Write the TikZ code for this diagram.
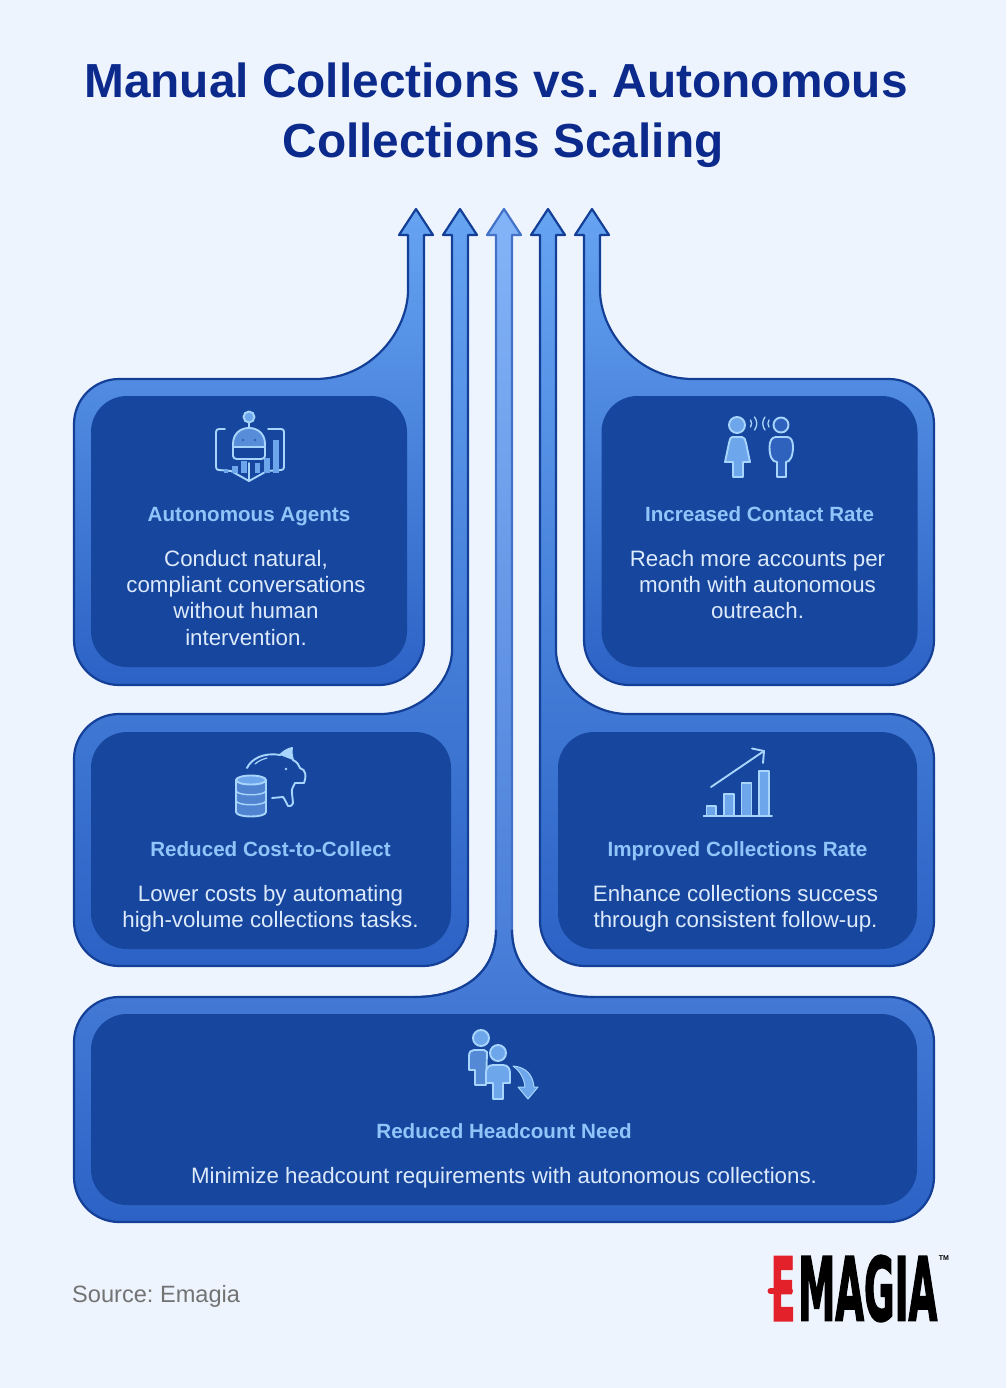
\documentclass[tikz,border=0pt]{standalone}
\usepackage{fontspec}
\setmainfont{Liberation Sans}
\newfontfamily\logofont[FakeBold=2.5]{DejaVu Sans Bold}
\usetikzlibrary{positioning}
\frenchspacing
\definecolor{pagetop}{HTML}{EEF4FE}
\definecolor{titleblue}{HTML}{0B2A8C}
\definecolor{bandtop}{HTML}{66A4F2}
\definecolor{bandbot}{HTML}{2C62C5}
\definecolor{bandedge}{HTML}{143F96}
\definecolor{midedge}{HTML}{4272C8}
\definecolor{midtop}{HTML}{84B4F8}
\definecolor{midbot}{HTML}{3E74D2}
\definecolor{lowtop}{HTML}{4A80DA}
\definecolor{innerblue}{HTML}{17469F}
\definecolor{headblue}{HTML}{8FC6FA}
\definecolor{bodyblue}{HTML}{DCEAFB}
\definecolor{iconedge}{HTML}{A8D5FC}
\definecolor{iconfill}{HTML}{6EA6EC}
\definecolor{icondark}{HTML}{2E62BD}
\definecolor{logored}{HTML}{E3212B}
\begin{document}
\begin{tikzpicture}[x=1pt,y=-1pt,
			band/.style={draw=bandedge, line width=2.2pt, line join=round, top color=bandtop, bottom color=bandbot},
			midband/.style={draw=midedge, line width=2.2pt, line join=round, top color=midtop, bottom color=midbot},
			block/.style={rectangle, rounded corners=36pt, fill=innerblue, inner sep=0pt},
			head/.style={font=\fontsize{20.6}{25}\selectfont\bfseries, text=headblue, inner sep=0pt, text height=16pt, text depth=5pt},
			body/.style={font=\fontsize{22.3}{26.4}\selectfont, text=bodyblue, align=center, inner sep=0pt},
			iconline/.style={draw=iconedge, line width=1.9pt, line join=round, line cap=round},
			iconbar/.style={iconline, fill=iconfill}]
			\useasboundingbox (0,0) rectangle (1006,1388);
			\fill[pagetop] (0,0) rectangle (1006,1388);
			\node[font=\fontsize{47.8}{60}\selectfont\bfseries, text=titleblue, align=center, inner sep=0pt] (title) at (496,115.5) {Manual Collections vs. Autonomous\\[0pt]\hspace*{14pt}Collections Scaling};
			\path[midband] (496,235) -- (487,235) -- (504,209) -- (521,235) -- (512,235) -- (512,930) .. controls (512,975) and (550,997) .. (593,997) -- (496,1100) -- (415,997) .. controls (460,997) and (496,975) .. (496,930) -- cycle;
			\path[band, top color=lowtop] (496,930) .. controls (496,975) and (460,997) .. (415,997) [rounded corners=45pt] -- (74,997) -- (74,1222) -- (934,1222) -- (934,997) [sharp corners] -- (593,997) .. controls (550,997) and (512,975) .. (512,930);
			\path[band] (408,235) -- (399,235) -- (416,209) -- (433,235) -- (424,235) [rounded corners=45pt] -- (424,685) -- (74,685) -- (74,379) [sharp corners] -- (315,379) .. controls (372,379) and (408,330) .. (408,290) -- cycle;
			\path[band] (452,235) -- (443,235) -- (460,209) -- (477,235) -- (468,235) [rounded corners=45pt] -- (468,966) -- (74,966) -- (74,714) [sharp corners] -- (380,714) .. controls (420,714) and (452,682) .. (452,650) -- cycle;
			\path[band] (600,235) -- (609,235) -- (592,209) -- (575,235) -- (584,235) [rounded corners=45pt] -- (584,685) -- (934,685) -- (934,379) [sharp corners] -- (693,379) .. controls (636,379) and (600,330) .. (600,290) -- cycle;
			\path[band] (556,235) -- (565,235) -- (548,209) -- (531,235) -- (540,235) [rounded corners=45pt] -- (540,966) -- (934,966) -- (934,714) [sharp corners] -- (628,714) .. controls (588,714) and (556,682) .. (556,650) -- cycle;
			\node[block, minimum width=316pt, minimum height=271pt] (block1) at (249,531.5) {};
			\node[block, minimum width=316pt, minimum height=271pt] (block2) at (759.5,531.5) {};
			\node[block, minimum width=360pt, minimum height=217pt] (block3) at (271,840.5) {};
			\node[block, minimum width=359pt, minimum height=217pt] (block4) at (737.5,840.5) {};
			\node[block, minimum width=826pt, minimum height=191pt] (block5) at (504,1109.5) {};
			\node[head] (head1) at (249,516) {Autonomous Agents};
			\node[body] (body1) [below=23pt of head1, xshift=-3pt] {Conduct natural,\\compliant conversations\\without human\\intervention.};
			\node[head] (head2) at (759.5,516) {Increased Contact Rate};
			\node[body] (body2) [below=23pt of head2, xshift=-2pt] {Reach more accounts per\\month with autonomous\\outreach.};
			\node[head] (head3) at (270.5,851) {Reduced Cost-to-Collect};
			\node[body] (body3) [below=23pt of head3] {Lower costs by automating\\high-volume collections tasks.};
			\node[head] (head4) at (737.5,851) {Improved Collections Rate};
			\node[body] (body4) [below=23pt of head4, xshift=-2pt] {Enhance collections success\\through consistent follow-up.};
			\node[head] (head5) at (504,1133) {Reduced Headcount Need};
			\node[body] (body5) [below=23pt of head5] {Minimize headcount requirements with autonomous collections.};
			\node[font=\fontsize{23.6}{28}\selectfont, text=black!55, anchor=west, inner sep=0pt] (source) at (72,1296) {Source: Emagia};
			\node[font=\logofont\fontsize{50}{50}\selectfont, text=logored, xscale=.72, yscale=1.75, inner sep=0pt] (logo1) at (783,1288.5) {E};
			\draw[logored, line width=6pt, line cap=round] (770.5,1291) -- (790,1291);
			\node[font=\logofont\fontsize{50}{50}\selectfont, text=black, xscale=.745, yscale=1.75, inner sep=0pt, anchor=west] (logo2) at (798,1288.5) {MAGIA};
			\node[font=\fontsize{7}{8}\selectfont\bfseries, text=black, inner sep=0pt] (logo3) at (944,1258) {TM};
			% robot
			\draw[iconline] (225,429) -- (219,429) .. controls (217,429) and (216,430) .. (216,432) -- (216,467) .. controls (216,469) and (217,470) .. (219,470) -- (231,471) -- (249,481) -- (267,471) -- (281,470) .. controls (283,470) and (284,469) .. (284,467) -- (284,432) .. controls (284,430) and (283,429) .. (281,429) -- (268,429);
			\foreach \xa/\xb/\yb in {223.5/228/469, 232/237.5/466, 241/247/461, 255/260/463, 264/270/458, 273/279/440}
				\fill[iconfill] (\xa,\yb) rectangle (\xb,473);
			\draw[iconline] (249,463) -- (249,481);
			\draw[iconline, fill=iconfill!75!innerblue] (233,447) -- (233,444) .. controls (233,434) and (240,428) .. (249,428) .. controls (258,428) and (265,434) .. (265,444) -- (265,447) -- cycle;
			\draw[iconline, fill=innerblue] (233,447) -- (233,456) .. controls (233,458) and (235,459) .. (237,459) -- (261,459) .. controls (263,459) and (265,458) .. (265,456) -- (265,447) -- cycle;
			\draw[iconline] (249,422) -- (249,428);
			\draw[iconline, fill=iconfill] (249,417) circle (5.5);
			\fill[innerblue!70!iconfill] (243,440) circle (1.4) (255,440) circle (1.4);
			% talking people
			\draw[iconbar] (737,425) circle (8);
			\draw[iconbar] (732,437) -- (742,437) .. controls (745,437) and (745,440) .. (746,443) -- (750,462) -- (743,462) -- (743,477) -- (733,477) -- (733,462) -- (725,462) -- (729,443) .. controls (730,440) and (730,437) .. (732,437) -- cycle;
			\draw[iconline, fill=icondark] (781,425) circle (7.5);
			\draw[iconline, fill=icondark] (776,437) -- (787,437) .. controls (791,437) and (793,441) .. (793,447) .. controls (793,456) and (790,462) .. (786,462) -- (786,477) -- (777,477) -- (777,462) .. controls (772,462) and (769.5,456) .. (769.5,447) .. controls (769.5,441) and (772,437) .. (776,437) -- cycle;
			\draw[iconline, line width=1.3pt] (750.5,420) .. controls (752,422) and (752,425) .. (750.5,427);
			\draw[iconline, line width=1.3pt] (754.5,417) .. controls (757.5,421) and (757.5,426) .. (754.5,430);
			\draw[iconline, line width=1.3pt] (765,417) .. controls (762,421) and (762,426) .. (765,430);
			\draw[iconline, line width=1.3pt] (769,420) .. controls (767.5,422) and (767.5,425) .. (769,427);
			% piggy bank
			\draw[iconline] (247,768) .. controls (251,759) and (264,752) .. (280,755) .. controls (283,752) and (287,749) .. (292,748) .. controls (291,752) and (292,756) .. (293,760) .. controls (297,762) and (299,765) .. (300,768) .. controls (303,769) and (305,771) .. (305,773) .. controls (306,776) and (305,780) .. (304,783) -- (295,783) .. controls (293,787) and (291,790) .. (292,793) -- (293,803) .. controls (292,806) and (289,807) .. (288,806) .. controls (286,803) and (285,799) .. (283,797) -- (272,798);
			\fill[iconedge] (280,755) .. controls (283,752) and (287,749) .. (292,748) .. controls (291,752) and (292,756) .. (293,760) -- cycle;
			\draw[iconline, line width=1.2pt] (255,764) .. controls (258,761) and (263,759) .. (267,758);
			\fill[iconedge] (286,769) circle (1.3);
			\draw[iconline, fill=iconfill!65!innerblue] (236,780) -- (236,812) .. controls (236,818) and (266,818) .. (266,812) -- (266,780) -- cycle;
			\draw[iconline, fill=iconfill] (251,780) ellipse (15 and 4.5);
			\foreach \y in {791,801}
				\draw[iconline, line width=1.4pt] (236,\y) .. controls (238,\y+5) and (264,\y+5) .. (266,\y);
			% bar chart
			\foreach \xa/\xb/\yb in {706.5/716/806, 724/734/794, 741.5/751.5/783, 759/769/771}
				\draw[iconbar, line width=1.2pt] (\xa,816) rectangle (\xb,\yb);
			\draw[iconline] (703.5,816) -- (772,816);
			\draw[iconline] (711,787) -- (764,751);
			\draw[iconline] (752,748.5) -- (764,751) -- (763,763);
			% people with arrow
			\draw[iconline, fill=iconfill] (481,1038) circle (8);
			\draw[iconline, fill=iconfill!70!innerblue] (474,1050) -- (484,1050) -- (487,1052) -- (486,1085) -- (475,1085) -- (475,1070) -- (469,1070) -- (469,1056) .. controls (469,1052) and (471,1050) .. (474,1050) -- cycle;
			\draw[iconbar] (498,1053) circle (8);
			\draw[iconbar] (493,1065) -- (503,1065) .. controls (508,1065) and (510,1069) .. (510,1073) -- (510,1083) -- (503,1083) -- (503,1099) -- (493,1099) -- (493,1083) -- (486,1083) -- (486,1073) .. controls (486,1069) and (488,1065) .. (493,1065) -- cycle;
			\fill[iconfill, draw=iconedge, line width=1pt, line join=round] (513,1066) .. controls (526,1067) and (533,1075) .. (534,1087) -- (538,1087) -- (528,1099) -- (518,1087) -- (525,1087) .. controls (524,1078) and (520,1071) .. (513,1066) -- cycle;
		\end{tikzpicture}
\end{document}
